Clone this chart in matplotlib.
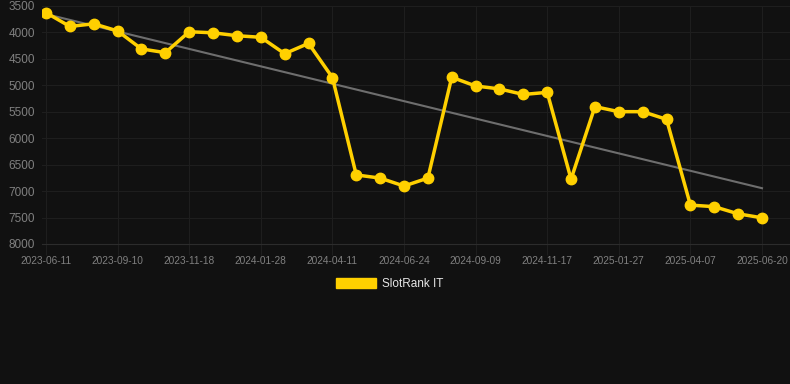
import matplotlib.pyplot as plt
import numpy as np
from matplotlib.patches import Patch

# SlotRank IT positions, one per sample (category axis)
dates = [
    "2023-06-11", "", "", "2023-09-10", "", "", "2023-11-18", "", "",
    "2024-01-28", "", "", "2024-04-11", "", "", "2024-06-24", "", "",
    "2024-09-09", "", "", "2024-11-17", "", "", "2025-01-27", "", "",
    "2025-04-07", "", "", "2025-06-20",
]
rank = [
    3630, 3890, 3840, 3975, 4315, 4385, 3990, 4010, 4065, 4095, 4405,
    4210, 4855, 6695, 6755, 6905, 6755, 4850, 5015, 5070, 5175, 5135,
    6775, 5405, 5500, 5500, 5645, 7265, 7295, 7430, 7505,
]
y_ticks = [3500, 4000, 4500, 5000, 5500, 6000, 6500, 7000, 7500, 8000]

BG = "#111111"
YELLOW = "#FFD000"
GRID = "#1e1e1e"
TICK = "#808080"

plt.rcParams["font.family"] = ["Liberation Sans", "DejaVu Sans"]

fig = plt.figure(figsize=(7.9, 3.84), dpi=100, facecolor=BG)
ax = fig.add_axes([42 / 790, 1 - 244 / 384, 748 / 790, (244 - 5.8) / 384])
ax.set_facecolor(BG)

x = np.arange(len(rank))
# linear trend through the series
k, b = np.polyfit(x, rank, 1)
ax.plot(x, k * x + b, color="#6e6e6e", lw=1.5, zorder=2)
ax.plot(x, rank, color=YELLOW, lw=2.5, marker="o", markersize=7.5, zorder=3)

ax.set_xlim(-4 / 23.87, 30 + 28 / 23.87)
ax.set_ylim(8000, 3500)
ax.set_yticks(y_ticks)
ax.set_yticklabels([str(v) for v in y_ticks])
ax.set_xticks(x[::3])
ax.set_xticklabels([d for d in dates if d])

ax.grid(True, color=GRID, lw=0.8)
ax.set_axisbelow(True)
for s in ax.spines.values():
    s.set_visible(False)
ax.spines["bottom"].set_visible(True)
ax.spines["bottom"].set_color("#2c2c2c")
ax.spines["bottom"].set_linewidth(0.8)
ax.tick_params(axis="y", length=0, pad=5, labelsize=8.5, labelcolor=TICK)
ax.tick_params(axis="x", length=8, width=0.8, color=GRID, pad=1,
               labelsize=7.3, labelcolor=TICK)

handle = Patch(facecolor=YELLOW, edgecolor=YELLOW)
fig.legend(
    [handle], ["SlotRank IT"], loc="center", bbox_to_anchor=(390 / 790, 1 - 284 / 384),
    frameon=False, fontsize=8.5, labelcolor="#e6e6e6",
    handlelength=3.4, handleheight=1.0, handletextpad=0.5,
)

fig.savefig("out.png", dpi=100, facecolor=BG)
